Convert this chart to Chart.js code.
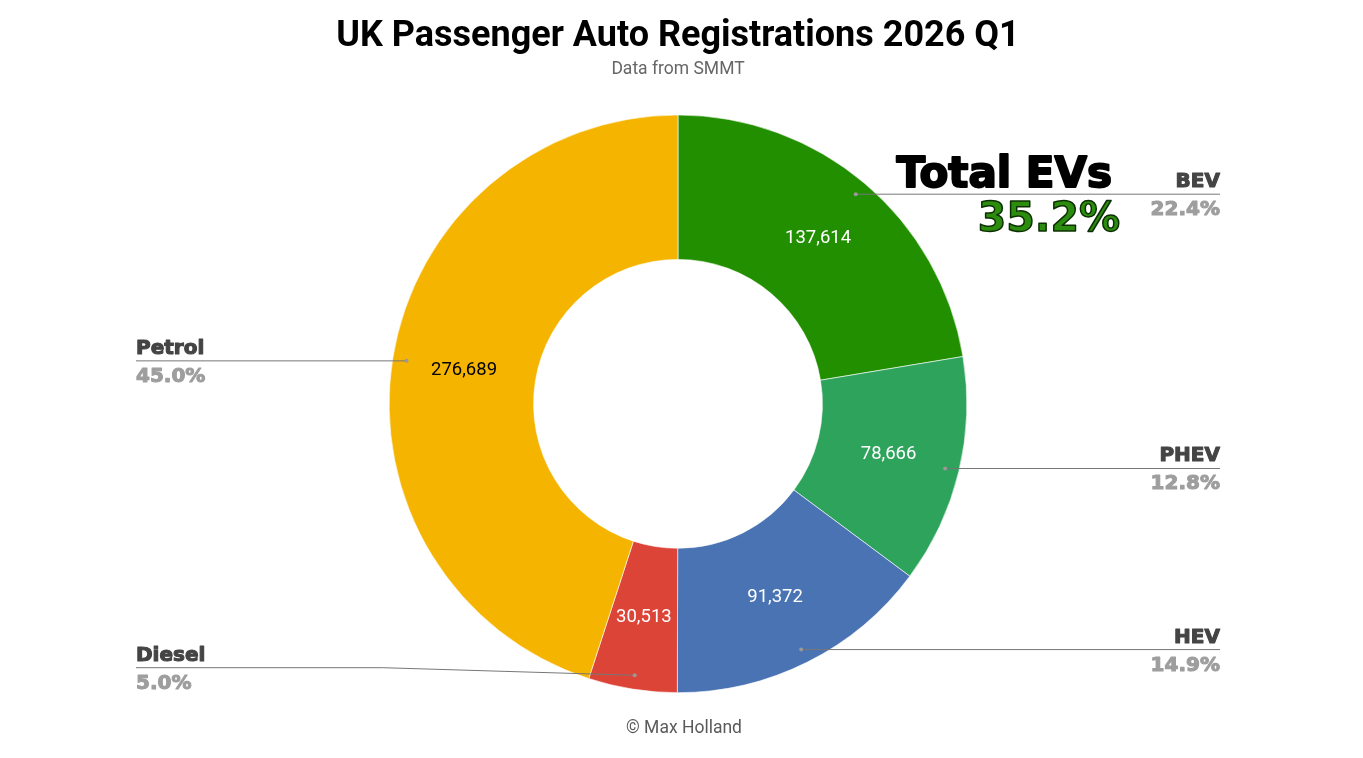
<!DOCTYPE html>
<html><head><meta charset="utf-8">
<script src="https://cdn.jsdelivr.net/npm/chart.js@4.4.1/dist/chart.umd.min.js"></script>
<style>html,body{margin:0;padding:0;background:#fff;}#wrap{width:1363px;height:758px;}</style>
</head><body><div id="wrap"><canvas id="c" width="1363" height="758"></canvas></div>
<script>
const categories = ['BEV', 'PHEV', 'HEV', 'Diesel', 'Petrol'];
const registrations = [137614, 78666, 91372, 30513, 276689];
const sliceColors = ['#228f00', '#2ea35c', '#4a73b4', '#db4437', '#f4b400'];
const valueLabelColors = ['#ffffff', '#ffffff', '#ffffff', '#ffffff', '#000000'];
const evCategories = ['BEV', 'PHEV'];
const titleText = 'UK Passenger Auto Registrations 2026 Q1';
const subtitleText = 'Data from SMMT';
const footerText = '\u00A9 Max Holland';
const highlightTitle = 'Total EVs';

const total = registrations.reduce((a, b) => a + b, 0);
const pct = v => (v / total * 100).toFixed(1) + '%';
const evShare = evCategories.reduce((s, c) => s + registrations[categories.indexOf(c)], 0);

function heavyText(ctx, text, x, y, w) {
  ctx.lineWidth = w;
  ctx.lineJoin = 'round';
  ctx.strokeStyle = ctx.fillStyle;
  ctx.strokeText(text, x, y);
  ctx.fillText(text, x, y);
}

const calloutPlugin = {
  id: 'callouts',
  afterDatasetsDraw(chart) {
    const ctx = chart.ctx;
    const meta = chart.getDatasetMeta(0);
    const leftX = 136, rightX = chart.width - 143;
    let bevLineY = null;
    meta.data.forEach((arc, i) => {
      const p = arc.getProps(['x', 'y', 'startAngle', 'endAngle', 'innerRadius', 'outerRadius'], true);
      const mid = (p.startAngle + p.endAngle) / 2;
      const cx = Math.cos(mid), cy = Math.sin(mid);
      const rm = (p.innerRadius + p.outerRadius) / 2;
      ctx.save();
      ctx.font = '18.5px Roboto';
      ctx.fillStyle = valueLabelColors[i];
      ctx.textAlign = 'center';
      ctx.textBaseline = 'middle';
      ctx.fillText(registrations[i].toLocaleString('en-US'), p.x + cx * rm, p.y + cy * rm);
      const rd = p.outerRadius - 14;
      const dx = p.x + cx * rd, dy = p.y + cy * rd;
      const lineY = Math.min(dy, p.y + p.outerRadius - 25);
      const right = cx > 0;
      const endX = right ? rightX : leftX;
      ctx.strokeStyle = '#777';
      ctx.lineWidth = 1;
      ctx.beginPath();
      ctx.moveTo(dx, dy);
      if (Math.abs(lineY - dy) > 0.5) {
        const bendX = right ? dx + 250 : dx - 252;
        ctx.lineTo(bendX, lineY);
      }
      ctx.lineTo(endX, lineY);
      ctx.stroke();
      ctx.fillStyle = '#999';
      ctx.beginPath();
      ctx.arc(dx, dy, 2, 0, Math.PI * 2);
      ctx.fill();
      ctx.textAlign = right ? 'right' : 'left';
      ctx.textBaseline = 'alphabetic';
      ctx.font = 'bold 20px "DejaVu Sans"';
      ctx.fillStyle = '#444444';
      heavyText(ctx, categories[i], endX, lineY - 7, 1.1);
      ctx.fillStyle = '#9e9e9e';
      heavyText(ctx, pct(registrations[i]), endX, lineY + 21, 1.1);
      ctx.restore();
      if (categories[i] === 'BEV') bevLineY = lineY;
    });
    if (bevLineY !== null) {
      ctx.save();
      ctx.textAlign = 'right';
      ctx.textBaseline = 'alphabetic';
      ctx.font = 'bold 42px "DejaVu Sans"';
      ctx.fillStyle = '#000000';
      heavyText(ctx, highlightTitle, rightX - 108, bevLineY - 7, 2);
      ctx.font = 'bold 41px "DejaVu Sans"';
      const t = pct(evShare);
      ctx.fillStyle = '#2c8c0e';
      ctx.fillText(t, rightX - 100, bevLineY + 37);
      ctx.strokeStyle = '#0b2e02';
      ctx.lineWidth = 1.5;
      ctx.lineJoin = 'round';
      ctx.strokeText(t, rightX - 100, bevLineY + 37);
      ctx.restore();
    }
    ctx.save();
    ctx.font = '17.5px Roboto';
    ctx.fillStyle = '#5a5a5a';
    ctx.textAlign = 'center';
    ctx.textBaseline = 'middle';
    ctx.fillText(footerText, 684, 729);
    ctx.restore();
  }
};

new Chart(document.getElementById('c'), {
  type: 'doughnut',
  data: {
    labels: categories,
    datasets: [{
      data: registrations,
      backgroundColor: sliceColors,
      borderColor: '#ffffff',
      borderWidth: 0.6
    }]
  },
  options: {
    responsive: false,
    animation: false,
    cutout: '50%',
    layout: { padding: { top: 0, bottom: 65, left: 0, right: 7 } },
    plugins: {
      legend: { display: false },
      tooltip: { enabled: false },
      title: {
        display: true,
        text: titleText,
        color: '#000',
        font: { family: 'Roboto', size: 36, weight: 'bold' },
        padding: { top: 15, bottom: 0.6 }
      },
      subtitle: {
        display: true,
        text: subtitleText,
        color: '#666',
        font: { family: 'Roboto', size: 17.5 },
        padding: { bottom: 34.9 }
      }
    }
  },
  plugins: [calloutPlugin]
});
</script>
</body></html>
